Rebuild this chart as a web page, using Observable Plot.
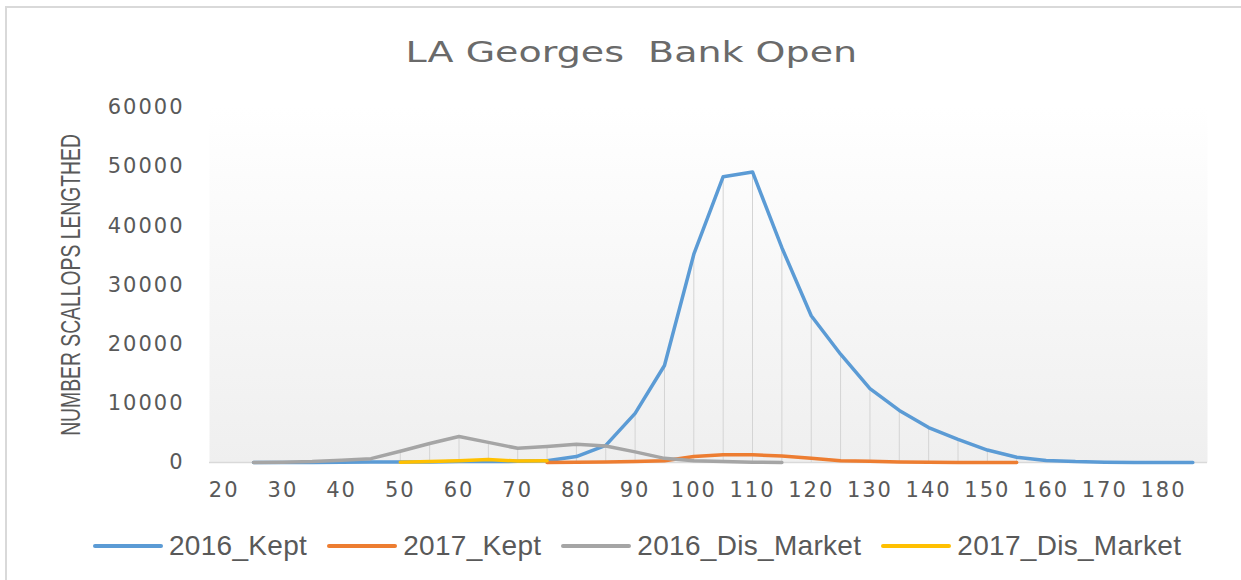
<!DOCTYPE html>
<html>
<head>
<meta charset="utf-8">
<script src="https://cdn.jsdelivr.net/npm/d3@7"></script>
<script src="https://cdn.jsdelivr.net/npm/@observablehq/plot@0.6"></script>
<style>
  html, body { margin: 0; padding: 0; background: #ffffff; }
  #wrap { position: relative; width: 1241px; height: 580px; overflow: hidden; background: #fff; }
  #border { position: absolute; left: 5px; top: 6px; right: -10px; bottom: -10px;
            border-top: 2px solid #d9d9d9; border-left: 2px solid #d9d9d9; }
  #title { position: absolute; left: 0; width: 1262px; top: 38px; text-align: center;
           font-family: "DejaVu Sans", sans-serif; font-size: 29px; line-height: 1; color: #6a6a6a; }
  #title span { display: inline-block; transform: scaleX(1.31); transform-origin: center; white-space: nowrap; }
  #ytitle { position: absolute; left: 71px; top: 285px; white-space: nowrap;
            font-family: "Liberation Sans", Arial, sans-serif; font-size: 28px; line-height: 1; color: #595959;
            transform: translate(-50%, -50%) rotate(-90deg) scaleX(0.69); }
  #chart { position: absolute; left: 0; top: 0; }
  #legend { position: absolute; left: 93px; top: 531px; height: 30px; display: flex; align-items: center;
            font-family: "Liberation Sans", Arial, sans-serif; font-size: 28px; letter-spacing: 0.3px; color: #595959; white-space: nowrap; }
  .item { display: flex; align-items: center; margin-right: 20px; }
  .swatch { width: 70px; height: 4px; border-radius: 2px; margin-right: 6px; }
</style>
</head>
<body>
<div id="wrap">
  <div id="border"></div>
  <div id="title"><span>LA Georges&nbsp; Bank Open</span></div>
  <div id="ytitle">NUMBER SCALLOPS LENGTHED</div>
  <div id="chart"></div>
  <div id="legend"></div>
</div>
<script>
// ---- data ----
const seriesNames = ["2016_Kept", "2017_Kept", "2016_Dis_Market", "2017_Dis_Market"];
const seriesColors = ["#5b9bd5", "#ed7d31", "#a5a5a5", "#ffc000"];

const lengths2016Kept = [25, 30, 35, 40, 45, 50, 55, 60, 65, 70, 75, 80, 85, 90, 95, 100, 105, 110, 115, 120, 125, 130, 135, 140, 145, 150, 155, 160, 165, 170, 175, 180, 185];
const values2016Kept  = [0, 0, 20, 50, 80, 100, 100, 150, 150, 200, 300, 1000, 2900, 8300, 16400, 35200, 48300, 49100, 36300, 24800, 18300, 12500, 8800, 5900, 3900, 2100, 900, 350, 150, 60, 20, 10, 0];

const lengths2017Kept = [75, 80, 85, 90, 95, 100, 105, 110, 115, 120, 125, 130, 135, 140, 145, 150, 155];
const values2017Kept  = [0, 50, 100, 150, 300, 1000, 1300, 1300, 1100, 700, 300, 200, 80, 40, 20, 10, 0];

const lengths2016Dis = [25, 30, 35, 40, 45, 50, 55, 60, 65, 70, 75, 80, 85, 90, 95, 100, 105, 110, 115];
const values2016Dis  = [0, 30, 150, 400, 650, 1900, 3200, 4400, 3400, 2400, 2700, 3100, 2800, 1800, 700, 300, 150, 50, 0];

const lengths2017Dis = [50, 55, 60, 65, 70, 75];
const values2017Dis  = [50, 150, 300, 500, 250, 300];

const xTicks = [20, 30, 40, 50, 60, 70, 80, 90, 100, 110, 120, 130, 140, 150, 160, 170, 180];
const yTicks = [0, 10000, 20000, 30000, 40000, 50000, 60000];

// ---- build table ----
const seriesData = [
  [seriesNames[0], lengths2016Kept, values2016Kept],
  [seriesNames[1], lengths2017Kept, values2017Kept],
  [seriesNames[2], lengths2016Dis, values2016Dis],
  [seriesNames[3], lengths2017Dis, values2017Dis]
];
const rows = [];
for (const [name, xs, ys] of seriesData) {
  xs.forEach((x, i) => rows.push({series: name, length: x, value: ys[i]}));
}
// drop lines: from axis to highest series value at each category
const drops = Array.from(d3.rollup(rows, v => d3.max(v, d => d.value), d => d.length),
  ([length, value]) => ({length, value}));

const chart = Plot.plot({
  width: 1241,
  height: 520,
  marginLeft: 209,
  marginRight: 34,
  marginTop: 107,
  marginBottom: 58,
  style: {background: "transparent", fontFamily: "DejaVu Sans, sans-serif", fontSize: "21px", color: "#595959", letterSpacing: "2px"},
  x: {domain: [17.5, 187.5], ticks: xTicks, tickFormat: d => String(d), tickSize: 0, tickPadding: 20, label: null},
  y: {domain: [0, 60000], ticks: yTicks, tickFormat: d => String(d), tickSize: 0, tickPadding: 25, label: null},
  color: {domain: seriesNames, range: seriesColors},
  marks: [
    Plot.frame({fill: "url(#plotbg)", stroke: "none"}),
    Plot.ruleX(drops, {x: "length", y1: 0, y2: "value", stroke: "#d4d4d4", strokeWidth: 1}),
    Plot.ruleY([0], {stroke: "#d9d9d9", strokeWidth: 1.5}),
    Plot.line(rows, {x: "length", y: "value", z: "series", stroke: "series", strokeWidth: 3.5, strokeLinejoin: "round", strokeLinecap: "round"})
  ]
});

// gradient for plot background
const ns = "http://www.w3.org/2000/svg";
const defs = document.createElementNS(ns, "defs");
const grad = document.createElementNS(ns, "linearGradient");
grad.setAttribute("id", "plotbg");
grad.setAttribute("x1", "0"); grad.setAttribute("y1", "0");
grad.setAttribute("x2", "0"); grad.setAttribute("y2", "1");
[["0%", "#ffffff"], ["100%", "#efefef"]].forEach(([o, c]) => {
  const s = document.createElementNS(ns, "stop");
  s.setAttribute("offset", o); s.setAttribute("stop-color", c);
  grad.appendChild(s);
});
defs.appendChild(grad);
chart.insertBefore(defs, chart.firstChild);

document.getElementById("chart").appendChild(chart);

// legend
const legend = document.getElementById("legend");
seriesNames.forEach((name, i) => {
  const item = document.createElement("div");
  item.className = "item";
  const sw = document.createElement("div");
  sw.className = "swatch";
  sw.style.background = seriesColors[i];
  const label = document.createElement("span");
  label.textContent = name;
  item.appendChild(sw);
  item.appendChild(label);
  legend.appendChild(item);
});
</script>
</body>
</html>
